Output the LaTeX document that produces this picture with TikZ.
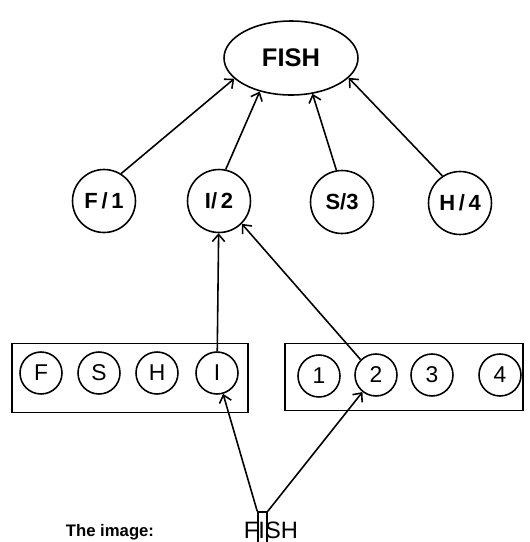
\documentclass[tikz,border=0pt]{standalone}
\usepackage{fontspec}
\setsansfont{Liberation Sans}
\usetikzlibrary{arrows.meta,shapes.geometric}

\begin{document}
\begin{tikzpicture}[x=0.02cm,y=-0.02cm,line width=0.9pt]
\useasboundingbox (0,0) rectangle (530,542);

\begin{scope}[every node/.style={draw,inner sep=0pt}]
    \node (lbox) at (130,378) [minimum width=4.72cm,minimum height=1.38cm] {};
    \node (rbox) at (404,377) [minimum width=4.76cm,minimum height=1.34cm] {};
\end{scope}

\begin{scope}[every node/.style={circle,draw,fill=white,minimum size=0.84cm,inner sep=0pt,
              font=\sffamily\fontsize{13}{15}\selectfont}]
    \node (F) at (41 ,373) {F};
    \node (S) at (99 ,373) {S};
    \node (H) at (157,373) {H};
    \node (I) at (217,373) {I};
    \node (1) at (319,376) {1};
    \node (2) at (376,375) {2};
    \node (3) at (432,375) {3};
    \node (4) at (500,375) {4};
\end{scope}

\begin{scope}[every node/.style={circle,draw,minimum size=1.26cm,inner sep=0pt,
              font=\sffamily\bfseries\fontsize{12.5}{14}\selectfont}]
    \node (F1) at (104,201) {F\,/\,1};
    \node (I2) at (219,201) {I/\,2};
    \node (S3) at (342,202) {S/3};
    \node (H4) at (460,203) {H\,/\,4};
\end{scope}

\node (w) at (291,58) [ellipse,draw,minimum width=2.68cm,minimum height=1.48cm,inner sep=0pt,
      font=\sffamily\bfseries\fontsize{14.5}{17}\selectfont] {FISH};

\node (word) at (271,530) [font=\sffamily\fontsize{13.5}{15}\selectfont] {FISH};
\node (cap)  at (110,532) [font=\sffamily\bfseries\fontsize{9.5}{11}\selectfont] {The image:};
\node (img)  at (262.5,532) [draw,minimum width=0.18cm,minimum height=0.8cm,inner sep=0pt] {};

\begin{scope}[>={Straight Barb[length=4pt,width=7pt]},
              every edge/.style={draw}]
    \path [->] (F1.58)  edge (w.200);
    \path [->] (I2.78)  edge (w.227);
    \path [->] (S3.100) edge (w.301);
    \path [->] (H4.123) edge (w.341);

    \path [->] (I) edge (I2);
    \path [->] (2.135) edge (I2.-45);

    \path [->] (img.north west) edge (I);
    \path [->] (img.north east) edge (2);
\end{scope}
\end{tikzpicture}
\end{document}
